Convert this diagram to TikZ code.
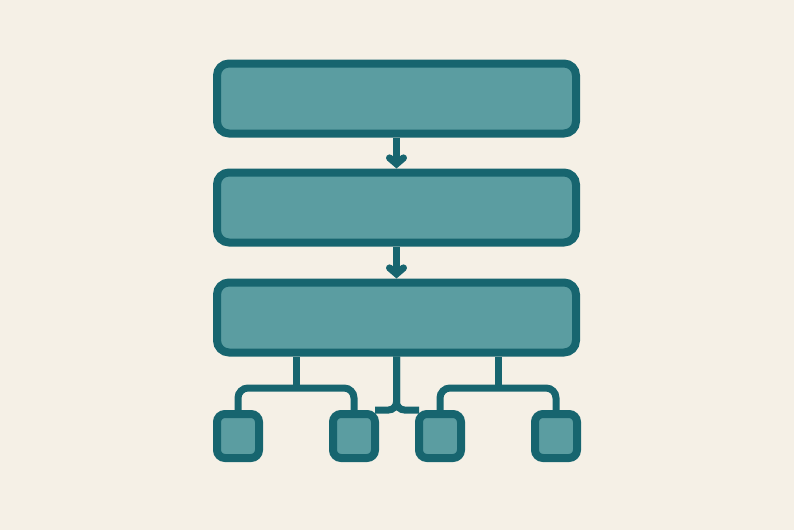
\documentclass[tikz,border=0pt]{standalone}
\usetikzlibrary{arrows.meta}
\definecolor{paper}{HTML}{F5F0E6}
\definecolor{tealline}{HTML}{17656F}
\definecolor{tealfill}{HTML}{5B9DA1}
\tikzset{
    layer/.style={draw=tealline, fill=tealfill, line width=8pt, rounded corners=12pt,
        minimum width=359pt, minimum height=70pt, inner sep=0pt},
    leaf/.style={draw=tealline, fill=tealfill, line width=8pt, rounded corners=8pt,
        minimum width=42pt, minimum height=44pt, inner sep=0pt},
    link/.style={draw=tealline, line width=7pt, rounded corners=10pt},
}
\begin{document}
\begin{tikzpicture}[x=1pt, y=-1pt, >={Straight Barb[length=6pt, width=14pt, line cap=round]}]
    \fill[paper] (0,0) rectangle (794,530);
    \useasboundingbox (0,0) rectangle (794,530);
\node[layer] (top) at (396.5,98.5) {};
\node[layer] (mid) at (396.5,207.5) {};
\node[layer] (low) at (396.5,317.5) {};
\foreach \n/\x in {a/238,b/354,c/440,d/556}
{
    \node[leaf] (\n) at (\x,436) {};
}
\coordinate (jl) at (296,388);
\coordinate (jr) at (498,388);
    \draw[link, ->] (top.south) -- (mid.north);
    \draw[link, ->] (mid.south) -- (low.north);
    \draw[link] (a.north) |- (jl) -| (b.north);
    \draw[link] (jl) -- (jl |- low.south);
    \draw[link] (c.north) |- (jr) -| (d.north);
    \draw[link] (jr) -- (jr |- low.south);
    \draw[link, rounded corners=8pt] (low.south) |- ([xshift=-4pt]b.north east);
    \draw[link, rounded corners=8pt] (low.south) |- ([xshift=4pt]c.north west);
\end{tikzpicture}
\end{document}
